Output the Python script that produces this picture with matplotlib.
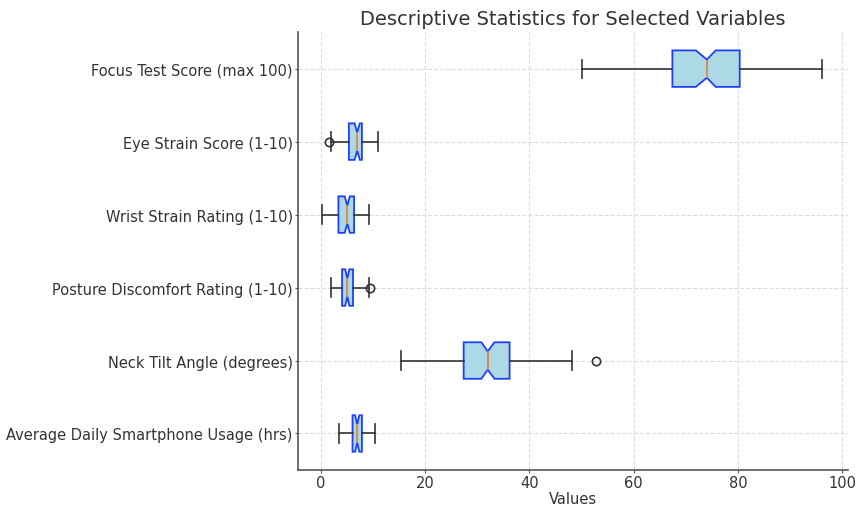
import matplotlib
matplotlib.use("Agg")
import matplotlib.pyplot as plt

labels = ["Average Daily Smartphone Usage (hrs)", "Neck Tilt Angle (degrees)",
          "Posture Discomfort Rating (1-10)", "Wrist Strain Rating (1-10)",
          "Eye Strain Score (1-10)", "Focus Test Score (max 100)"]
whislo = [3.6, 15.3, 2.0, 0.3, 2.0, 50.0]
q1 = [6.1, 27.4, 4.1, 3.4, 5.4, 67.4]
med = [7.0, 32.0, 5.1, 5.1, 7.0, 74.0]
q3 = [7.9, 36.2, 6.2, 6.4, 7.9, 80.3]
whishi = [10.4, 48.1, 9.2, 9.3, 11.0, 96.0]
cilo = [6.6, 30.8, 4.7, 4.6, 6.5, 71.9]
cihi = [7.4, 33.3, 5.5, 5.6, 7.5, 75.7]
fliers = [[], [52.7], [9.4], [], [1.5], []]

stats = []
for i in range(len(labels)):
    stats.append(dict(label=labels[i], whislo=whislo[i], q1=q1[i], med=med[i],
                      q3=q3[i], whishi=whishi[i], cilo=cilo[i], cihi=cihi[i],
                      fliers=fliers[i]))

fig = plt.figure(figsize=(8.58, 5.10), dpi=100)
ax = fig.add_axes([0.347, 0.0765, 0.641, 0.8585])
ax.bxp(stats, vert=False, shownotches=True, patch_artist=True, widths=0.5,
       boxprops=dict(facecolor="lightblue", edgecolor="#1f3fff", linewidth=1.3),
       medianprops=dict(color="#e0803a", linewidth=1.2),
       whiskerprops=dict(color="#333333", linewidth=1.2),
       capprops=dict(color="#333333", linewidth=1.2),
       flierprops=dict(marker="o", markerfacecolor="none", markeredgecolor="#333333",
                       markersize=6, markeredgewidth=1.2))
ax.set_xlim(-4.4, 101)
ax.set_ylim(0.5, 6.5)
ax.grid(True, linestyle="--", color="#dddddd", linewidth=0.8)
ax.set_axisbelow(True)
for s in ["top", "right"]:
    ax.spines[s].set_visible(False)
for s in ["left", "bottom"]:
    ax.spines[s].set_color("#555555")
    ax.spines[s].set_linewidth(1.2)
ax.tick_params(colors="#333333", labelsize=10.5, length=2, pad=1.5, color="#555555")
ax.set_xlabel("Values", fontsize=10.5, color="#333333", labelpad=1)
ax.set_title("Descriptive Statistics for Selected Variables", fontsize=14, color="#333333", pad=6)
fig.savefig("out.png", dpi=100)
